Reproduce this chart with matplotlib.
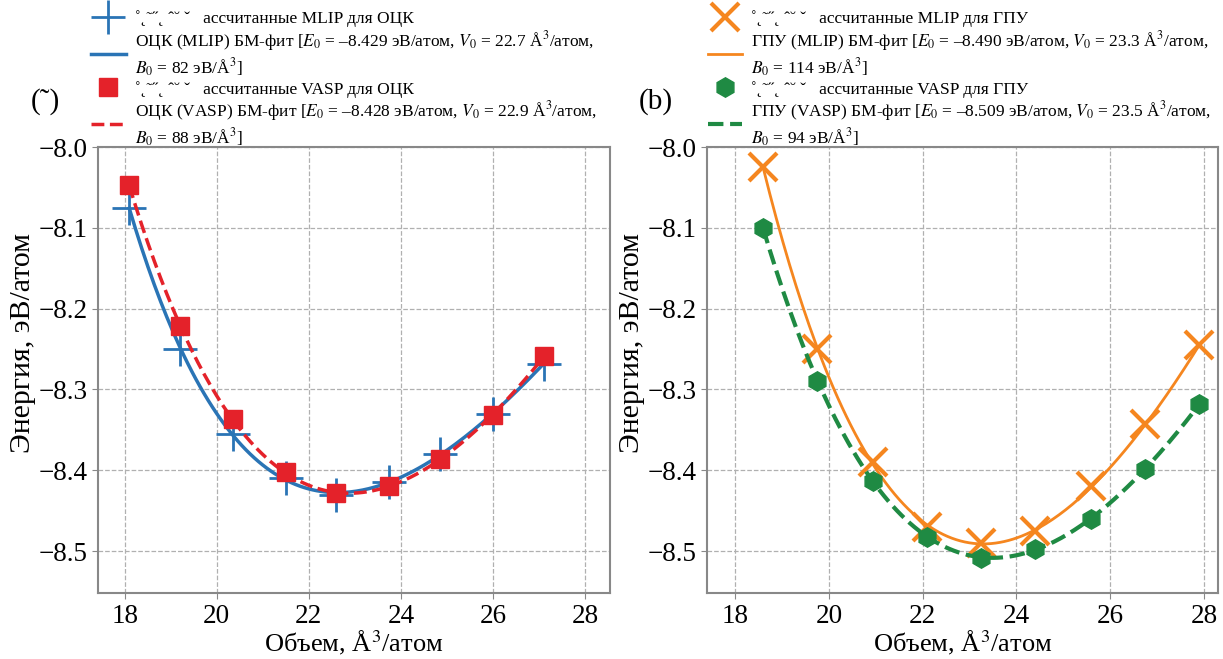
import numpy as np
import matplotlib
matplotlib.use("Agg")
import matplotlib.pyplot as plt

plt.rcParams['font.family'] = ['Liberation Serif', 'DejaVu Serif']
plt.rcParams['mathtext.fontset'] = 'stix'

# ОЦК (левая панель)
V_bcc = [18.1, 19.2, 20.35, 21.5, 22.6, 23.75, 24.85, 26.0, 27.1]
E_bcc_mlip = [-8.075, -8.250, -8.355, -8.410, -8.430, -8.415, -8.380, -8.330, -8.268]
E_bcc_vasp = [-8.047, -8.222, -8.337, -8.402, -8.428, -8.420, -8.386, -8.332, -8.259]
# параметры БМ-фита из легенды: E0, V0, B0
par_bcc_mlip = (-8.429, 22.7, 82)
par_bcc_vasp = (-8.428, 22.9, 88)

# ГПУ (правая панель)
V_hcp = [18.6, 19.75, 20.95, 22.1, 23.25, 24.4, 25.6, 26.75, 27.9]
E_hcp_mlip = [-8.025, -8.250, -8.390, -8.470, -8.490, -8.475, -8.420, -8.343, -8.245]
E_hcp_vasp = [-8.100, -8.290, -8.413, -8.482, -8.508, -8.498, -8.460, -8.398, -8.318]
par_hcp_mlip = (-8.490, 23.3, 114)
par_hcp_vasp = (-8.509, 23.5, 94)

junk = "˚˛˜˝˛ ˆ˘ ˇ"


def bm_fit(V, E, n=200):
    # Бирч-Мурнаган: E - кубический полином по V^(-2/3)
    V = np.asarray(V)
    c = np.polyfit(V ** (-2.0 / 3.0), E, 3)
    vv = np.linspace(V.min(), V.max(), n)
    return vv, np.polyval(c, vv ** (-2.0 / 3.0))


def flabel(name, src, p):
    return (name + " (" + src + ") БМ-фит [$E_0$ = –%.3f эВ/атом, $V_0$ = %.1f Å$^3$/атом,\n$B_0$ = %d эВ/Å$^3$]"
            % (-p[0], p[1], p[2]))


fig = plt.figure(figsize=(12.23, 6.59), dpi=100)
ax1 = fig.add_axes([0.0801, 0.100, 0.4186, 0.6768])
ax2 = fig.add_axes([0.578, 0.100, 0.418, 0.6768])

blue = "#2a74b5"
red = "#e4222a"
orange = "#f5861f"
green = "#1f8a43"


def style(ax, xlim):
    ax.set_xlim(*xlim)
    ax.set_ylim(-8.552, -8.0)
    ax.set_xticks([18, 20, 22, 24, 26, 28])
    ax.set_yticks([-8.0, -8.1, -8.2, -8.3, -8.4, -8.5])
    ax.set_yticklabels(["−8.0", "−8.1", "−8.2", "−8.3", "−8.4", "−8.5"])
    ax.grid(True, linestyle="--", color="#b0b0b0", linewidth=0.9)
    ax.tick_params(labelsize=19.5, length=4, color="#888888")
    for s in ax.spines.values():
        s.set_color("#888888")
        s.set_linewidth(1.5)
    ax.set_xlabel("Объем, Å$^3$/атом", fontsize=19, labelpad=0)
    ax.set_ylabel("Энергия, эВ/атом", fontsize=21.5)
    ax.yaxis.set_label_coords(-0.122, 0.56)


# левая панель
vv, ee = bm_fit(V_bcc, E_bcc_mlip)
h1, = ax1.plot(V_bcc, E_bcc_mlip, "+", color=blue, ms=24, mew=2, label=junk + "   ассчитанные MLIP для ОЦК")
h2, = ax1.plot(vv, ee, "-", color=blue, lw=2.5, label=flabel("ОЦК", "MLIP", par_bcc_mlip))
vv, ee = bm_fit(V_bcc, E_bcc_vasp)
h3, = ax1.plot(V_bcc, E_bcc_vasp, "s", color=red, ms=13, label=junk + "   ассчитанные VASP для ОЦК")
h4, = ax1.plot(vv, ee, "--", color=red, lw=2.5, label=flabel("ОЦК", "VASP", par_bcc_vasp))
style(ax1, (17.42, 28.54))

# правая панель
vv, ee = bm_fit(V_hcp, E_hcp_mlip)
g1, = ax2.plot(V_hcp, E_hcp_mlip, "x", color=orange, ms=20, mew=3, label=junk + "   ассчитанные MLIP для ГПУ")
g2, = ax2.plot(vv, ee, "-", color=orange, lw=2, label=flabel("ГПУ", "MLIP", par_hcp_mlip))
vv, ee = bm_fit(V_hcp, E_hcp_vasp)
g3, = ax2.plot(V_hcp, E_hcp_vasp, "h", color=green, ms=14, label=junk + "   ассчитанные VASP для ГПУ")
g4, = ax2.plot(vv, ee, "--", color=green, lw=3, label=flabel("ГПУ", "VASP", par_hcp_vasp))
style(ax2, (17.4, 28.3))

leg_kw = dict(loc="upper left", frameon=False, fontsize=12.5, handlelength=2.0,
              handletextpad=0.5, labelspacing=0.1, borderaxespad=0.2)
fig.legend(handles=[h1, h2, h3, h4], bbox_to_anchor=(0.066, 1.0), **leg_kw)
fig.legend(handles=[g1, g2, g3, g4], bbox_to_anchor=(0.570, 1.0), **leg_kw)

fig.text(0.025, 0.835, "(˜)", fontsize=21)
fig.text(0.522, 0.835, "(b)", fontsize=21)

fig.savefig("out.png", dpi=100)
